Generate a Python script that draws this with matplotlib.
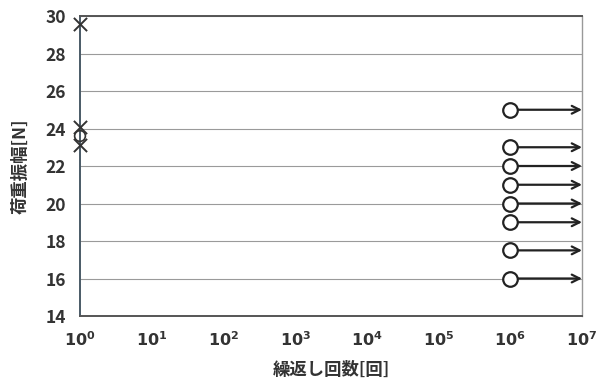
import matplotlib.pyplot as plt
import numpy as np

plt.rcParams['font.family'] = ['Noto Sans CJK JP', 'DejaVu Sans']

# broken specimens (x marks) at 10^0
fail_n = [1, 1, 1]
fail_load = [29.6, 24.1, 23.1]

# run-out specimens (circles) at 10^0 and 10^6
runout0_n = [1]
runout0_load = [23.6]
runout_n = [1e6] * 8
runout_load = [25, 23, 22, 21, 20, 19, 17.5, 16]
arrow_end = 1e7

fig = plt.figure(figsize=(6.02, 3.81), dpi=100)
ax = fig.add_axes([0.1329, 0.1706, 0.8339, 0.7874])

ax.set_xscale('log')
ax.set_xlim(1, 1e7)
ax.set_ylim(14, 30)
ax.set_yticks(np.arange(14, 31, 2))
ax.set_xticks([10 ** i for i in range(8)])
ax.set_xticklabels([r'$\mathbf{10^{%d}}$' % i for i in range(8)])
ax.minorticks_off()

ax.grid(axis='y', color='#9a9a9a', lw=0.8)
ax.set_axisbelow(True)

for s in ax.spines.values():
    s.set_color('#555555')
    s.set_linewidth(1.0)
ax.spines['left'].set_color('#4a5a66')
ax.spines['left'].set_linewidth(1.4)
ax.spines['bottom'].set_linewidth(1.4)
ax.spines['top'].set_linewidth(1.4)
ax.spines['right'].set_color('#999999')

ax.tick_params(axis='y', length=0, pad=10, colors='#333333', labelsize=12.5)
ax.tick_params(axis='x', length=0, pad=11, colors='#333333', labelsize=11.5)
for lbl in ax.get_yticklabels():
    lbl.set_fontweight('bold')

# arrows for run-outs
for n, p in zip(runout_n, runout_load):
    ax.annotate('', xy=(arrow_end, p), xytext=(n * 1.25, p),
                arrowprops=dict(arrowstyle='->', color='#222222', lw=1.6,
                                mutation_scale=14, shrinkA=0, shrinkB=0))

ax.scatter(runout_n, runout_load, s=110, facecolors='white', edgecolors='#222222',
           linewidths=1.6, zorder=5, clip_on=False)
ax.scatter(runout0_n, runout0_load, s=60, facecolors='none', edgecolors='#333333',
           linewidths=1.2, zorder=5, clip_on=False)
ax.scatter(fail_n, fail_load, s=90, marker='x', color='#333333',
           linewidths=1.4, zorder=5, clip_on=False)

ax.set_xlabel('繰返し回数[回]', fontsize=12.5, fontweight='bold', color='#333333', labelpad=8)
ax.set_ylabel('荷重振幅[N]', fontsize=12.5, fontweight='bold', color='#333333', labelpad=12)

fig.savefig('out.png', dpi=100)
